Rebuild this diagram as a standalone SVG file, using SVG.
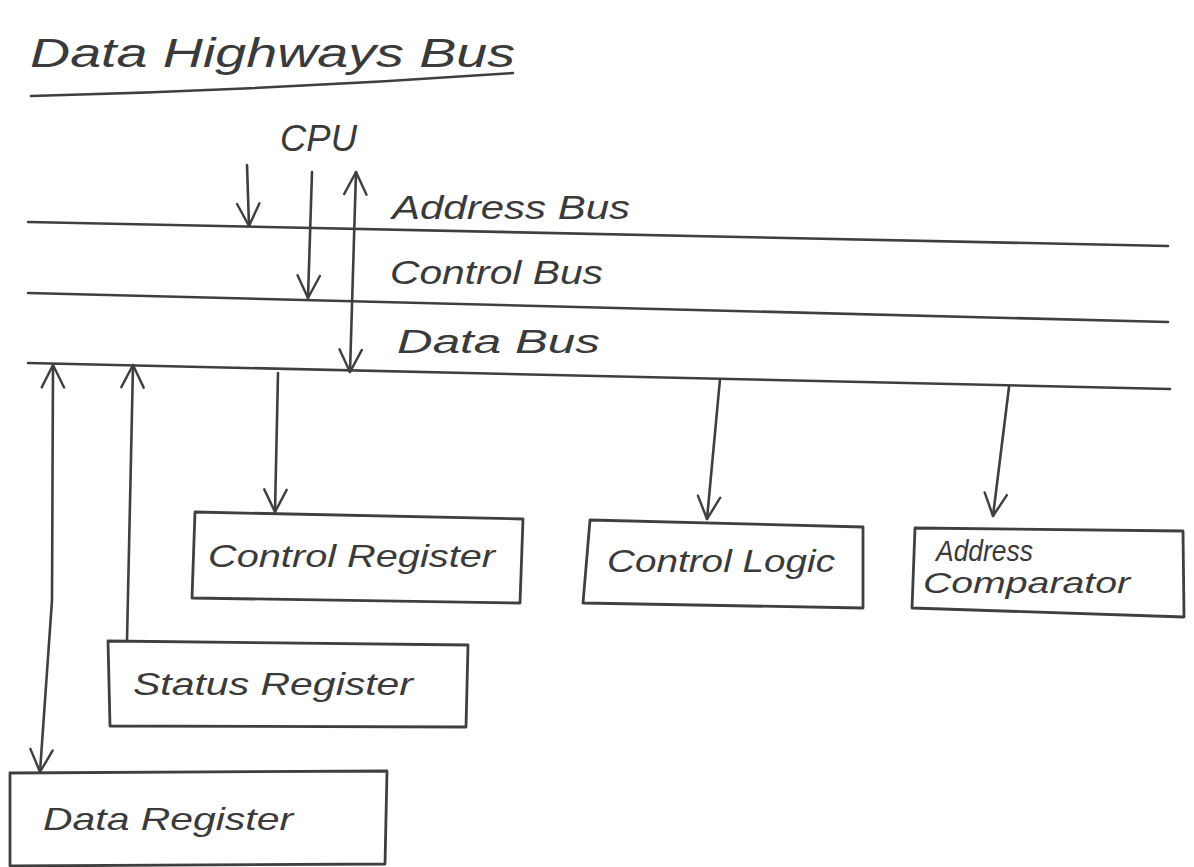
<svg xmlns="http://www.w3.org/2000/svg" width="1194" height="867" viewBox="0 0 1194 867">
<style>
.ln{fill:none;stroke:#3f3f3f;stroke-width:2.6;stroke-linecap:round;stroke-linejoin:round}
.bx{fill:none;stroke:#3f3f3f;stroke-width:2.8;stroke-linejoin:round}
.t{font-family:"Liberation Sans",Arial,sans-serif;font-style:italic;fill:#3a3a3a}
.conn{fill:none;stroke:#3f3f3f;stroke-width:2.6;stroke-linecap:round}
</style>
<defs>
<marker id="ah" viewBox="0 0 30 30" markerWidth="28" markerHeight="28" refX="28" refY="15" orient="auto-start-reverse" markerUnits="userSpaceOnUse">
<path d="M4,3 L28,15 L4,27" fill="none" stroke="#3f3f3f" stroke-width="2.6" stroke-linecap="round" stroke-linejoin="round"/>
</marker>
</defs>
<rect width="1194" height="867" fill="#ffffff"/>

<g id="title">
<text class="t" x="30" y="67" font-size="40" textLength="485" lengthAdjust="spacingAndGlyphs">Data Highways Bus</text>
<path class="ln" d="M31,96 Q270,90 513,73"/>
</g>

<g id="cpu">
<text class="t" x="280" y="151" font-size="36" font-style="normal" textLength="77" lengthAdjust="spacingAndGlyphs">CPU</text>
</g>

<g id="buses">
<path id="address-bus" class="ln" d="M28,222 L1168,246"/>
<path id="control-bus" class="ln" d="M28,293 L1168,322"/>
<path id="data-bus" class="ln" d="M28,363 L1170,389"/>
<text class="t" x="392" y="219" font-size="34" textLength="238" lengthAdjust="spacingAndGlyphs">Address Bus</text>
<text class="t" x="390" y="284" font-size="34" textLength="213" lengthAdjust="spacingAndGlyphs">Control Bus</text>
<text class="t" x="397" y="353" font-size="34" textLength="203" lengthAdjust="spacingAndGlyphs">Data Bus</text>
</g>

<g id="control-register">
<path class="bx" d="M195,512 L523,519 L520,603 L192,598 Z"/>
<text class="t" x="208" y="567" font-size="32" textLength="287" lengthAdjust="spacingAndGlyphs">Control Register</text>
</g>

<g id="control-logic">
<path class="bx" d="M590,520 L863,527 L863,608 L583,603 Z"/>
<text class="t" x="607" y="572" font-size="32" textLength="228" lengthAdjust="spacingAndGlyphs">Control Logic</text>
</g>

<g id="address-comparator">
<path class="bx" d="M915,528 L1183,531 L1184,617 L912,608 Z"/>
<text class="t" x="936" y="561" font-size="30" textLength="97" lengthAdjust="spacingAndGlyphs">Address</text>
<text class="t" x="923" y="593" font-size="30" textLength="207" lengthAdjust="spacingAndGlyphs">Comparator</text>
</g>

<g id="status-register">
<path class="bx" d="M108,641 L468,645 L466,727 L110,726 Z"/>
<text class="t" x="133" y="695" font-size="32" textLength="280" lengthAdjust="spacingAndGlyphs">Status Register</text>
</g>

<g id="data-register">
<path class="bx" d="M10,773 L387,771 L385,864 L10,866 Z"/>
<text class="t" x="43" y="830" font-size="32" textLength="250" lengthAdjust="spacingAndGlyphs">Data Register</text>
</g>

<g id="connectors">
<path class="conn" d="M247,165 L249,226" marker-end="url(#ah)"/>
<path class="conn" d="M312,172 L308,298" marker-end="url(#ah)"/>
<path class="conn" d="M356,172 L350,372" marker-start="url(#ah)" marker-end="url(#ah)"/>
<path class="conn" d="M278,373 L275,512" marker-end="url(#ah)"/>
<path class="conn" d="M720,379 L707,519" marker-end="url(#ah)"/>
<path class="conn" d="M1009,387 L993,516" marker-end="url(#ah)"/>
<path class="conn" d="M127,641 L133,365" marker-end="url(#ah)"/>
<path class="conn" d="M53,365 L52,600 L40,772" marker-start="url(#ah)" marker-end="url(#ah)"/>
</g>
</svg>
